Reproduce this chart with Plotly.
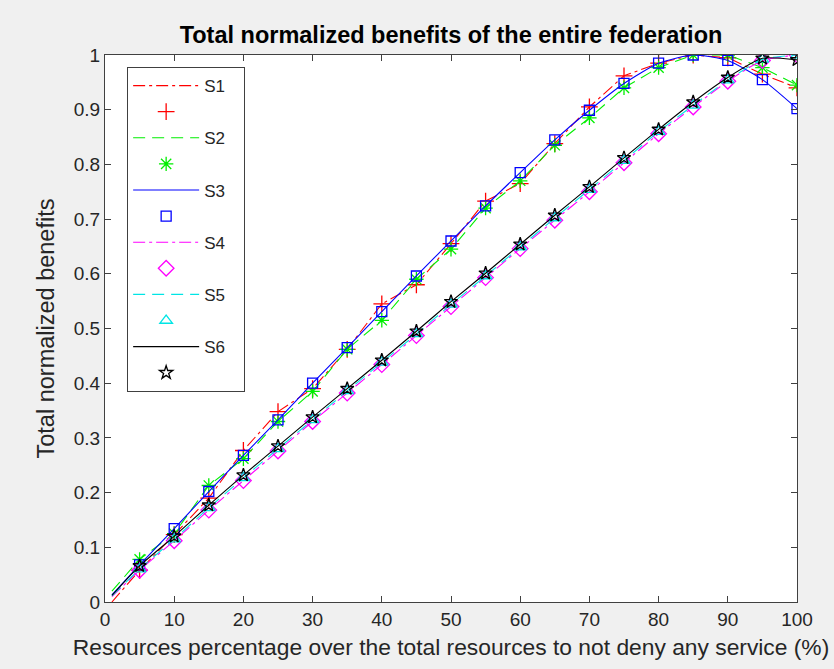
import plotly.graph_objects as go

# x positions of the plotted samples (line starts at 1 %, markers every 5 %)
x_line = [1, 5, 10, 15, 20, 25, 30, 35, 40, 45, 50, 55, 60, 65, 70, 75, 80, 85, 90, 95, 100]
x_mark = [5, 10, 15, 20, 25, 30, 35, 40, 45, 50, 55, 60, 65, 70, 75, 80, 85, 90, 95, 100]

s1 = [0.0, 0.058, 0.123, 0.19, 0.277, 0.348, 0.39, 0.462, 0.545, 0.58, 0.655, 0.733, 0.765, 0.838, 0.905, 0.962, 0.985, 1.0, 0.995, 0.965, 0.94]
s2 = [0.02, 0.078, 0.125, 0.213, 0.262, 0.33, 0.385, 0.462, 0.515, 0.59, 0.645, 0.72, 0.77, 0.835, 0.885, 0.94, 0.977, 1.0, 1.0, 0.977, 0.945]
s3 = [0.013, 0.068, 0.134, 0.202, 0.268, 0.333, 0.4, 0.465, 0.531, 0.596, 0.66, 0.724, 0.785, 0.845, 0.899, 0.948, 0.985, 1.0, 0.99, 0.955, 0.902]
s4 = [0.01, 0.058, 0.112, 0.168, 0.222, 0.276, 0.33, 0.382, 0.434, 0.487, 0.54, 0.593, 0.646, 0.698, 0.75, 0.803, 0.856, 0.905, 0.952, 0.99, 1.0]
s5 = [0.011, 0.06, 0.115, 0.172, 0.227, 0.28, 0.333, 0.386, 0.438, 0.49, 0.544, 0.596, 0.649, 0.702, 0.754, 0.807, 0.86, 0.908, 0.954, 0.992, 1.0]
s6 = [0.012, 0.066, 0.12, 0.177, 0.232, 0.285, 0.338, 0.39, 0.442, 0.495, 0.549, 0.601, 0.654, 0.707, 0.759, 0.812, 0.864, 0.914, 0.959, 0.994, 0.991]

names = ["S1", "S2", "S3", "S4", "S5", "S6"]
series = [s1, s2, s3, s4, s5, s6]
colors = ["#ff0000", "#00ee00", "#0000ff", "#ff00ff", "#00e5e5", "#000000"]
dashes = ["12px,4px,3px,4px", "12px,7px", "solid", "12px,4px,3px,4px", "12px,7px", "solid"]
shapes = ["linear", "linear", "spline", "spline", "spline", "spline"]
symbols = ["cross-thin-open", "asterisk-open", "square-open", "diamond-open", "triangle-up-open", "star-open"]
msizes = [12, 12, 10, 12, 11, 10]

x_ticks = [0, 10, 20, 30, 40, 50, 60, 70, 80, 90, 100]
y_ticks = [0, 0.1, 0.2, 0.3, 0.4, 0.5, 0.6, 0.7, 0.8, 0.9, 1]
y_ticktext = ["0", "0.1", "0.2", "0.3", "0.4", "0.5", "0.6", "0.7", "0.8", "0.9", "1"]

FONT = "Liberation Sans, Arial, Helvetica, sans-serif"
PAD = "\u00a0\u00a0\u00a0"

fig = go.Figure()
for i, (nm, ys) in enumerate(zip(names, series)):
    fig.add_trace(go.Scatter(
        x=x_line, y=ys, mode="lines", name=nm + PAD, legendgroup=f"l{i}",
        line=dict(color=colors[i], width=1.1, dash=dashes[i], shape=shapes[i], smoothing=0.6),
    ))
    ym = [ys[x_line.index(xv)] for xv in x_mark]
    fig.add_trace(go.Scatter(
        x=x_mark, y=ym, mode="markers", name=" ", legendgroup=f"m{i}",
        marker=dict(symbol=symbols[i], size=msizes[i], color=colors[i],
                    line=dict(color=colors[i], width=1.3)),
    ))

axis_common = dict(
    showline=True, linecolor="#404040", linewidth=1, mirror="allticks",
    ticks="inside", ticklen=6, tickcolor="#404040", tickwidth=1,
    showgrid=False, zeroline=False,
    tickfont=dict(family=FONT, size=19, color="#262626"),
)

fig.update_layout(
    width=834, height=669,
    paper_bgcolor="#f0f0f0", plot_bgcolor="#ffffff",
    margin=dict(l=105, r=37, t=55, b=67),
    title=dict(text="<b>Total normalized benefits of the entire federation</b>",
               x=451 / 834, xanchor="center", y=1 - 35 / 669, yanchor="middle",
               font=dict(family=FONT, size=23.5, color="#000000")),
    xaxis=dict(range=[0, 100], tickvals=x_ticks, **axis_common,
               title=dict(text="Resources percentage over the total resources to not deny any service (%)",
                          font=dict(family=FONT, size=22.8, color="#262626"), standoff=10)),
    yaxis=dict(range=[0, 1], tickvals=y_ticks, ticktext=y_ticktext, **axis_common,
               title=dict(text="Total normalized benefits",
                          font=dict(family=FONT, size=23.5, color="#262626"), standoff=12)),
    legend=dict(x=0.032, y=0.978, xanchor="left", yanchor="top",
                bgcolor="#ffffff", bordercolor="#404040", borderwidth=1,
                font=dict(family=FONT, size=17, color="#262626"),
                itemwidth=66, tracegroupgap=1, traceorder="grouped"),
    showlegend=True,
)

fig.write_html("out.html")
